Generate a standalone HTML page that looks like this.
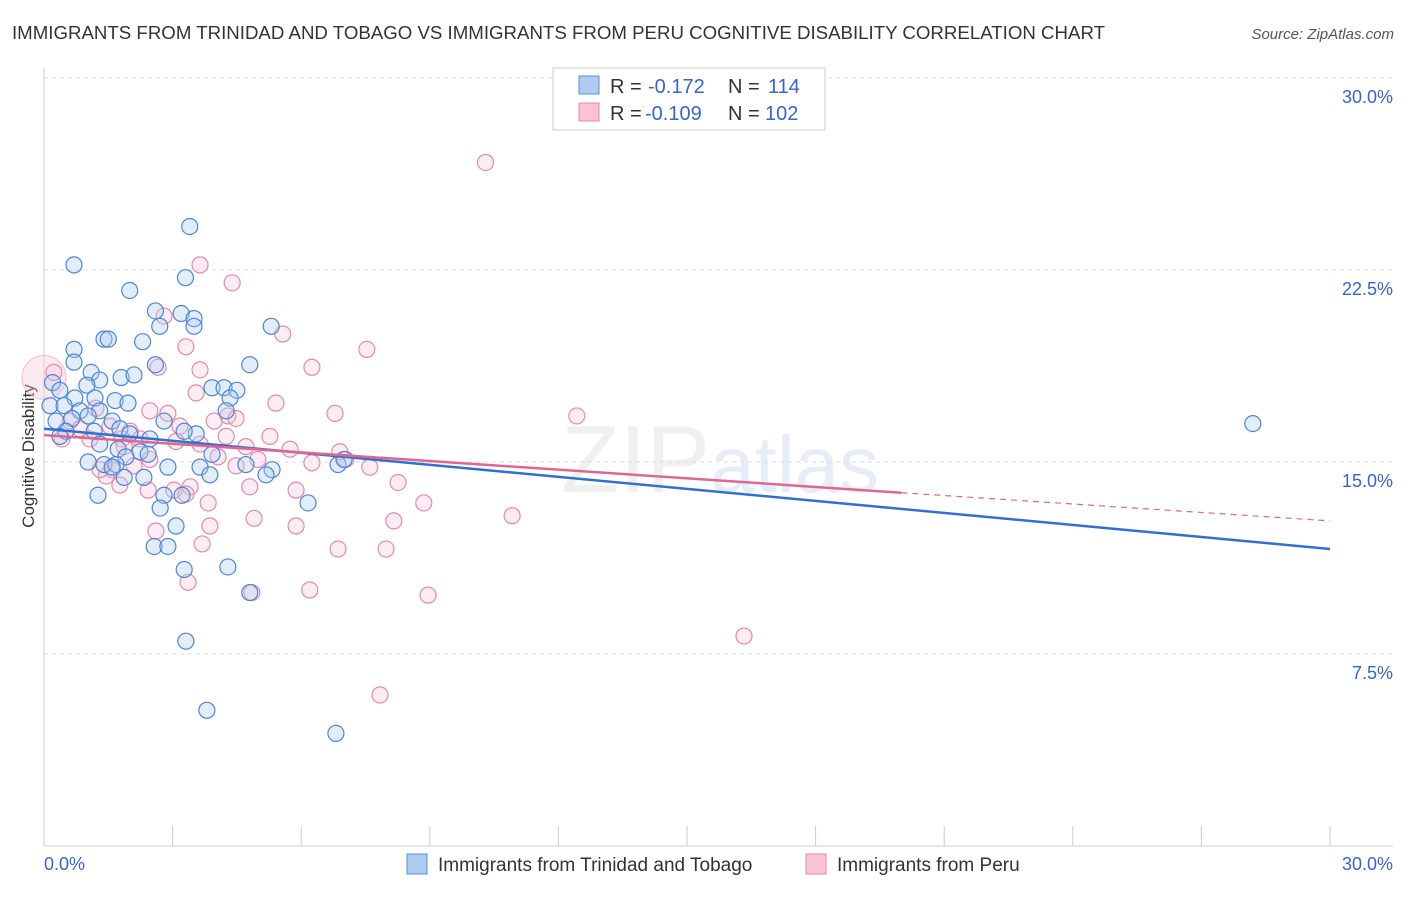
<!DOCTYPE html>
<html><head><meta charset="utf-8"><style>
body{margin:0;background:#fff;font-family:"Liberation Sans",sans-serif;}
svg text{font-family:"Liberation Sans",sans-serif;}
</style></head><body>
<svg id="chart" width="1406" height="892" xmlns="http://www.w3.org/2000/svg">
<text x="12" y="39" font-size="18" fill="#333" textLength="1093" lengthAdjust="spacingAndGlyphs">IMMIGRANTS FROM TRINIDAD AND TOBAGO VS IMMIGRANTS FROM PERU COGNITIVE DISABILITY CORRELATION CHART</text>
<text x="1394" y="39" font-size="15" fill="#555" text-anchor="end" font-style="italic">Source: ZipAtlas.com</text>
<text x="720" y="492" font-size="96" fill="#000" fill-opacity="0.06" text-anchor="middle" font-family="Liberation Serif">ZIP<tspan fill="#3366cc" fill-opacity="0.12" font-family="Liberation Sans" font-size="80">atlas</tspan></text>
<text transform="translate(34,456) rotate(-90)" font-size="17" fill="#333" text-anchor="middle">Cognitive Disability</text>
<g id="grid"></g><g id="pts"></g><g id="lines"></g>
<g>
<rect x="553" y="68" width="272" height="62" fill="#fff" stroke="#ccc"/>
<rect x="579" y="76" width="20" height="18" fill="#aecbf0" stroke="#5a8fd8"/>
<text x="610" y="93" font-size="20" fill="#333">R =</text>
<text x="648" y="93" font-size="20" fill="#3366cc">-0.172</text>
<text x="728" y="93" font-size="20" fill="#333">N =</text>
<text x="768" y="93" font-size="20" fill="#3366cc">114</text>
<rect x="579" y="103" width="20" height="18" fill="#f8c4d4" stroke="#e888a8"/>
<text x="610" y="120" font-size="20" fill="#333">R =</text>
<text x="645" y="120" font-size="20" fill="#3366cc">-0.109</text>
<text x="728" y="120" font-size="20" fill="#333">N =</text>
<text x="765" y="120" font-size="20" fill="#3366cc">102</text>
</g>
<g>
<rect x="407" y="854" width="20" height="20" fill="#aecbf0" stroke="#5a8fd8"/>
<text x="438" y="871" font-size="19" fill="#333">Immigrants from Trinidad and Tobago</text>
<rect x="806" y="854" width="20" height="20" fill="#f8c4d4" stroke="#e888a8"/>
<text x="837" y="871" font-size="19" fill="#333">Immigrants from Peru</text>
</g>
</svg>
<script>
const yTicks=[7.5,15,22.5,30];
const yTickLabels=["7.5%","15.0%","22.5%","30.0%"];
const xTickLabels=["0.0%","30.0%"];
const blueX=[0.7,3.4,3.3,2.0,2.6,3.2,3.5,3.5,2.7,5.3,1.4,1.5,2.3,0.7,0.7,2.6,4.8,1.1,1.8,2.1,1.3,1.0,0.2,3.92,4.2,4.5,4.34,0.37,0.72,1.19,1.66,1.96,0.14,0.47,0.84,1.3,4.25,0.28,0.65,1.03,1.59,2.8,1.77,0.51,1.17,2.0,3.55,0.37,3.27,2.47,1.3,1.73,2.24,1.91,2.43,1.03,1.4,1.68,4.71,6.86,2.89,3.64,5.32,1.59,1.87,2.33,3.87,5.18,1.26,3.22,2.8,6.16,2.71,3.08,2.57,2.89,3.27,4.29,4.8,3.31,3.8,6.81,28.2,7.0,3.92];
const blueY=[22.7,24.2,22.2,21.7,20.9,20.8,20.6,20.3,20.3,20.3,19.8,19.8,19.7,19.4,18.9,18.8,18.8,18.5,18.3,18.4,18.2,18.0,18.1,17.9,17.9,17.8,17.5,17.8,17.5,17.5,17.4,17.3,17.2,17.2,17.0,17.0,17.0,16.6,16.7,16.8,16.6,16.6,16.3,16.2,16.2,16.1,16.1,16.0,16.2,15.9,15.7,15.5,15.4,15.2,15.3,15.0,14.9,14.9,14.9,14.9,14.8,14.8,14.7,14.8,14.4,14.4,14.5,14.5,13.7,13.7,13.7,13.4,13.2,12.5,11.7,11.7,10.8,10.9,9.9,8.0,5.3,4.4,16.5,15.1,15.3];
const pinkX=[10.3,3.64,4.39,2.8,5.57,3.31,7.53,6.25,2.66,3.64,0.23,3.55,5.41,6.79,12.43,2.47,2.89,4.29,1.21,0.61,1.54,3.17,3.97,4.48,2.01,4.25,5.27,0.42,1.07,1.82,3.08,3.64,4.71,5.74,6.9,6.25,7.04,7.6,4.06,4.99,2.47,1.59,4.48,2.1,1.45,1.77,3.41,3.03,2.43,4.8,8.26,3.31,3.83,8.86,5.88,10.92,8.16,4.9,5.88,3.87,2.61,3.69,6.86,7.98,3.36,4.85,6.2,8.96,16.33,7.84,1.87,0.84,2.24,1.31];
const pinkY=[26.7,22.7,22.0,20.7,20.0,19.5,19.4,18.7,18.7,18.6,18.5,17.7,17.3,16.9,16.8,17.0,16.9,16.8,17.1,16.6,16.4,16.4,16.6,16.7,16.2,16.0,16.0,15.9,15.9,15.9,15.8,15.7,15.6,15.5,15.4,14.97,15.1,14.8,15.2,15.1,15.1,14.7,14.85,14.85,14.45,14.1,14.03,13.9,13.9,14.03,14.2,13.75,13.4,13.4,13.9,12.9,12.7,12.8,12.5,12.5,12.3,11.8,11.6,11.6,10.3,9.9,10.0,9.8,8.2,5.9,15.6,16.3,15.9,14.7];
const blueLine=[16.3,11.6], pinkLine=[16.05,13.8,12.7], pinkSolidEnd=20;
const NS="http://www.w3.org/2000/svg";
const X=v=>44+v*(1286/30), Y=v=>846-v*25.6;
function mk(t,a,p){const e=document.createElementNS(NS,t);for(const k in a)e.setAttribute(k,a[k]);p.appendChild(e);return e;}
const grid=document.getElementById('grid');
yTicks.forEach((t,i)=>{
 const l=mk('line',{x1:44,x2:1393,y1:Y(t),y2:Y(t),stroke:'#ddd','stroke-dasharray':'4,4'},grid);
 
 
 const tx=mk('text',{x:1393,y:Y(t)+25,'font-size':18,fill:'#3366cc','text-anchor':'end'},grid);tx.textContent=yTickLabels[i];
 
 
});
mk('line',{x1:44,x2:44,y1:68,y2:846,stroke:'#ccc'},grid);
mk('line',{x1:44,x2:1393,y1:846,y2:846,stroke:'#ccc'},grid);
for(let i=0;i<=10;i++){const t=mk('line',{x1:X(i*3),x2:X(i*3),y1:826,y2:846,stroke:'#ccc'},grid);
 
 }
[[0,44,'start'],[30,1393,'end']].forEach((d,i)=>{const t=mk('text',{x:d[1],y:870,'font-size':18,fill:'#3366cc','text-anchor':d[2]},grid);t.textContent=xTickLabels[i];
 
 });
const pts=document.getElementById('pts');
const big=mk('circle',{cx:X(0),cy:Y(18.3),r:22,fill:'#f8c4d4','fill-opacity':0.35,stroke:'#e888a8','stroke-opacity':0.5},pts);


pinkX.forEach((v,i)=>{const c=mk('circle',{cx:X(v),cy:Y(pinkY[i]),r:8,fill:'#f8c4d4','fill-opacity':0.3,stroke:'#e888a8','stroke-width':1.2},pts);
 
 });
blueX.forEach((v,i)=>{const c=mk('circle',{cx:X(v),cy:Y(blueY[i]),r:8,fill:'#aecbf0','fill-opacity':0.35,stroke:'#4a86d8','stroke-width':1.2},pts);
 
 });
const ln=document.getElementById('lines');
const b=mk('line',{x1:X(0),y1:Y(blueLine[0]),x2:X(30),y2:Y(blueLine[1]),stroke:'#2f6fd6','stroke-width':2.5},ln);


const p=mk('line',{x1:X(0),y1:Y(pinkLine[0]),x2:X(pinkSolidEnd),y2:Y(pinkLine[1]),stroke:'#e0668e','stroke-width':2.5},ln);


const pd=mk('line',{x1:X(pinkSolidEnd),y1:Y(pinkLine[1]),x2:X(30),y2:Y(pinkLine[2]),stroke:'#e0668e','stroke-width':1.2,'stroke-dasharray':'6,5'},ln);


</script>
</body></html>
